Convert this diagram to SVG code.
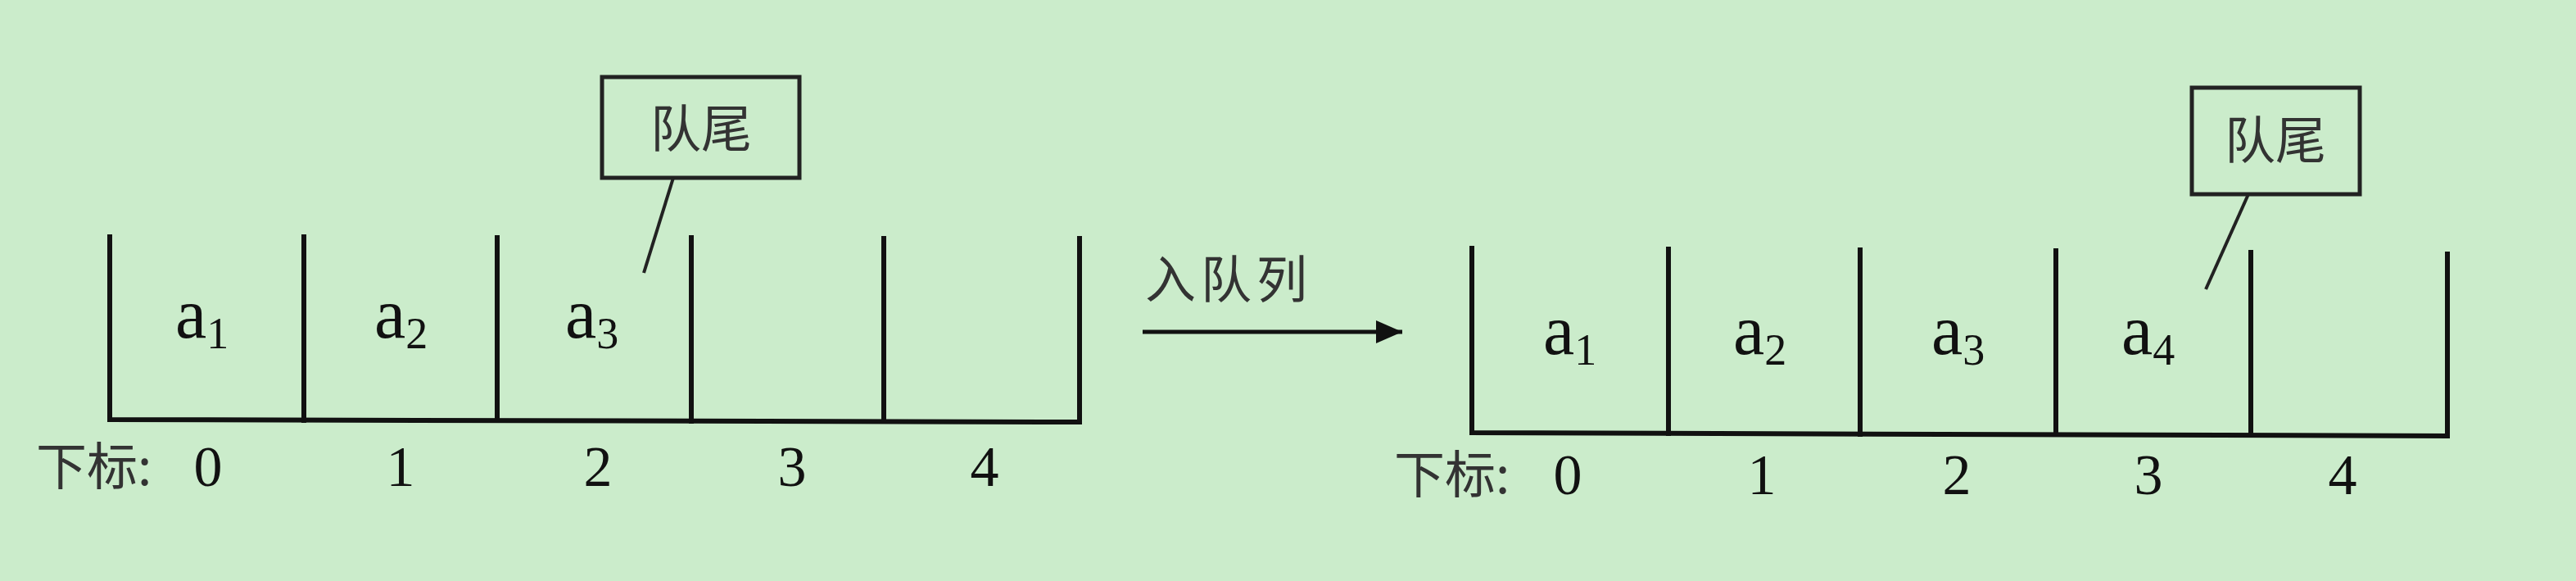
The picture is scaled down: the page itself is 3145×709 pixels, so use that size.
<svg xmlns="http://www.w3.org/2000/svg" width="3145" height="709" viewBox="0 0 3145 709">
<style>
.ln{stroke:#111;stroke-width:6;fill:none;stroke-linecap:square}
.box{stroke:#222;stroke-width:5;fill:none}
.tail{stroke:#222;stroke-width:4;fill:none}
.el{font-family:"Liberation Serif",serif;font-size:86px;fill:#111}
.sub{font-size:54px}
.num{font-family:"Liberation Serif",serif;font-size:70px;fill:#111;text-anchor:middle}
.cjk{font-family:"Noto Sans CJK SC","Noto Sans",sans-serif;font-size:62px;fill:#333}
</style>
<defs>
<marker id="ah" markerWidth="32" markerHeight="28" refX="32" refY="14" orient="auto" markerUnits="userSpaceOnUse" viewBox="0 0 32 28">
<path d="M0,0 L32,14 L0,28 Z" fill="#111"/>
</marker>
</defs>
<rect width="3145" height="709" fill="#cbeccb"/>

<g id="queue-before">
<path class="ln" d="M134,289 V512 L1318,515 V291"/>
<line class="ln" x1="371" y1="289" x2="371" y2="513"/>
<line class="ln" x1="607" y1="290" x2="607" y2="513"/>
<line class="ln" x1="844" y1="290" x2="844" y2="514"/>
<line class="ln" x1="1079" y1="291" x2="1079" y2="514"/>
<text class="el" x="214" y="412">a<tspan class="sub" dy="13">1</tspan></text>
<text class="el" x="457" y="412">a<tspan class="sub" dy="13">2</tspan></text>
<text class="el" x="690" y="412">a<tspan class="sub" dy="13">3</tspan></text>
<text class="cjk" x="44" y="592">下标:</text>
<text class="num" x="254" y="593">0</text>
<text class="num" x="489" y="593">1</text>
<text class="num" x="730" y="593">2</text>
<text class="num" x="967" y="593">3</text>
<text class="num" x="1202" y="593">4</text>
</g>

<g id="tail-before">
<rect class="box" x="735" y="94" width="241" height="123"/>
<text class="cjk" x="856" y="180" text-anchor="middle" font-size="70">队尾</text>
</g>

<g id="queue-after">
<path class="ln" d="M1797,303 V528 L2988,532 V310"/>
<line class="ln" x1="2037" y1="304" x2="2037" y2="529"/>
<line class="ln" x1="2271" y1="305" x2="2271" y2="530"/>
<line class="ln" x1="2510" y1="306" x2="2510" y2="530"/>
<line class="ln" x1="2748" y1="308" x2="2748" y2="531"/>
<text class="el" x="1884" y="432">a<tspan class="sub" dy="13">1</tspan></text>
<text class="el" x="2116" y="432">a<tspan class="sub" dy="13">2</tspan></text>
<text class="el" x="2358" y="432">a<tspan class="sub" dy="13">3</tspan></text>
<text class="el" x="2590" y="432">a<tspan class="sub" dy="13">4</tspan></text>
<text class="cjk" x="1702" y="602">下标:</text>
<text class="num" x="1914" y="603">0</text>
<text class="num" x="2151" y="603">1</text>
<text class="num" x="2389" y="603">2</text>
<text class="num" x="2623" y="603">3</text>
<text class="num" x="2860" y="603">4</text>
</g>

<g id="tail-after">
<rect class="box" x="2676" y="107" width="205" height="130"/>
<text class="cjk" x="2778" y="194" text-anchor="middle" font-size="70">队尾</text>
</g>

<g id="connectors">
<line class="tail" x1="822" y1="217" x2="786" y2="333"/>
<line class="tail" x1="2745" y1="237" x2="2693" y2="353"/>
<line x1="1395" y1="405" x2="1712" y2="405" stroke="#111" stroke-width="5" marker-end="url(#ah)"/>
<text class="cjk" x="1398" y="364" font-size="74" letter-spacing="6">入队列</text>
</g>
</svg>
